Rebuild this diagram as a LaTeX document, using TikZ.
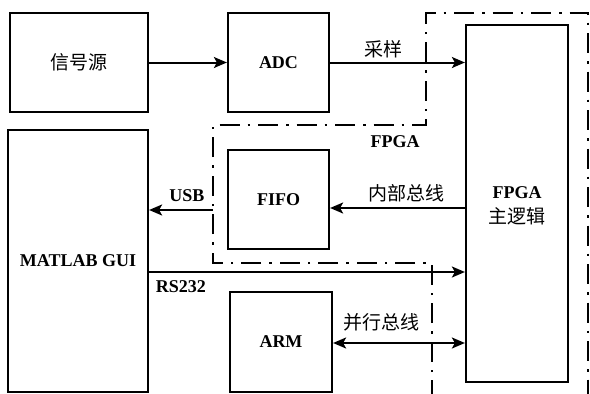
\documentclass[tikz,border=0pt]{standalone}
\usepackage{fontspec}
\setmainfont{Liberation Serif}
\newfontfamily\cjk{Noto Sans CJK SC}
\usetikzlibrary{arrows.meta}
\tikzset{
  blk/.style={draw, line width=2.2pt, inner sep=0pt, font=\fontsize{18}{20}\selectfont\bfseries},
  lbl/.style={inner sep=0pt, font=\fontsize{18}{20}\selectfont\bfseries},
  cjklbl/.style={inner sep=0pt, font=\fontsize{19}{21}\selectfont\cjk},
  conn/.style={line width=2pt, -{Stealth[length=13pt,width=11pt,inset=3pt]}},
  biconn/.style={line width=2pt, {Stealth[length=13pt,width=11pt,inset=3pt]}-{Stealth[length=13pt,width=11pt,inset=3pt]}},
  region/.style={line width=2.6pt, dash pattern=on 20pt off 8pt on 2.5pt off 8pt}
}
\begin{document}
\begin{tikzpicture}[x=1pt,y=-1pt]
\useasboundingbox (0,0) rectangle (590,394);
% blocks
\node[blk, minimum width=138pt, minimum height=99pt] (sig) at (79,62.5) {\fontsize{19}{21}\selectfont\cjk\mdseries 信号源};
\node[blk, minimum width=101pt, minimum height=99pt] (adc) at (278.5,62.5) {ADC};
\node[blk, minimum width=102pt, minimum height=357pt] (fpga) at (517,203.5) {};
\node[lbl] (fpgatxt1) at (517,193) {FPGA};
\node[cjklbl] (fpgatxt2) at (517,216) {主逻辑};
\node[blk, minimum width=140pt, minimum height=262pt] (matlab) at (78,261) {MATLAB GUI};
\node[blk, minimum width=101pt, minimum height=99pt] (fifo) at (278.5,199.5) {FIFO};
\node[blk, minimum width=102pt, minimum height=100pt] (arm) at (281,342) {ARM};
% region
\draw[region] (432,400) -- (432,263) -- (213,263) -- (213,125) -- (426,125) -- (426,13) -- (588,13) -- (588,400);
\node[lbl] (fpgalbl) at (395,142) {FPGA};
% connectors
\draw[conn] (sig.east) -- (adc.west);
\draw[conn] (adc.east) -- (adc.east -| fpga.west);
\node[cjklbl] (cy) at (383,49) {采样};
\draw[conn] (fpga.west |- 0,208) -- (fifo.east |- 0,208);
\node[cjklbl] (nb) at (406,193) {内部总线};
\coordinate (usbstart) at (213,210);
\draw[conn] (usbstart) -- (usbstart -| matlab.east);
\node[lbl] (usb) at (187,196) {USB};
\draw[conn] (matlab.east |- 0,272) -- (fpga.west |- 0,272);
\node[lbl] (rs) at (181,287) {RS232};
\draw[biconn] (arm.east |- 0,343) -- (fpga.west |- 0,343);
\node[cjklbl] (bx) at (381,322) {并行总线};
\end{tikzpicture}
\end{document}
